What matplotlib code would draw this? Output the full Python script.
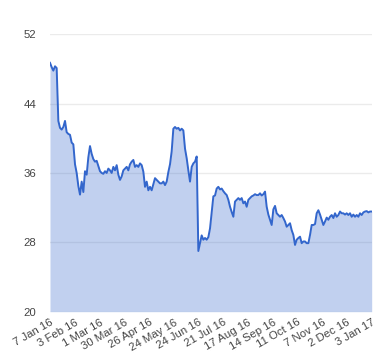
import numpy as np
import matplotlib
matplotlib.use("Agg")
import matplotlib.pyplot as plt

values = [
    48.7, 48.2, 47.8, 48.3, 48.1, 42.0, 41.2, 41.0, 41.3, 42.0,
    40.7, 40.5, 40.4, 39.5, 39.3, 37.0, 36.0, 34.5, 33.5, 35.0,
    33.8, 36.2, 35.8, 37.8, 39.1, 38.2, 37.6, 37.3, 37.4, 36.8,
    36.2, 36.0, 35.9, 36.2, 36.0, 36.5, 36.3, 36.0, 36.7, 36.3,
    36.9, 35.8, 35.2, 35.6, 36.3, 36.5, 36.7, 36.3, 37.0, 37.3,
    37.5, 36.7, 36.9, 36.7, 37.1, 36.9, 36.15, 34.4, 35.0, 34.0,
    34.4, 34.0, 34.7, 35.4, 35.2, 35.0, 34.8, 34.8, 35.0, 34.6,
    35.0, 36.1, 37.0, 38.5, 41.1, 41.3, 41.1, 41.2, 40.9, 41.1,
    40.9, 38.8, 37.7, 36.3, 35.0, 36.7, 37.1, 37.3, 37.9, 27.0,
    27.9, 28.8, 28.3, 28.5, 28.3, 28.6, 29.6, 31.5, 33.3, 33.4,
    34.2, 34.4, 34.1, 34.2, 33.9, 33.65, 33.45, 32.9, 32.1, 31.5,
    30.95, 32.7, 32.9, 33.1, 32.9, 33.1, 32.5, 32.7, 32.1, 32.9,
    33.1, 33.3, 33.4, 33.55, 33.45, 33.45, 33.65, 33.4, 33.55, 33.85,
    32.1, 31.2, 30.6, 30.0, 31.8, 32.2, 31.35, 31.15, 30.95, 31.15,
    30.8, 30.4, 29.8, 30.0, 30.2, 29.4, 28.85, 27.7, 28.3, 28.5,
    28.65, 27.9, 28.1, 28.1, 27.9, 27.9, 28.85, 30.0, 30.0, 30.1,
    31.35, 31.7, 31.2, 30.6, 30.0, 30.4, 30.85, 30.6, 30.95, 31.15,
    30.8, 31.35, 30.95, 31.15, 31.55, 31.35, 31.35, 31.2, 31.35, 31.15,
    31.35, 30.95, 31.2, 30.95, 31.15, 30.95, 31.35, 31.15, 31.45, 31.55,
    31.6, 31.45, 31.55, 31.55,
]
tick_labels = ["7 Jan 16", "3 Feb 16", "1 Mar 16", "30 Mar 16", "26 Apr 16",
               "24 May 16", "24 Jun 16", "21 Jul 16", "17 Aug 16", "14 Sep 16",
               "11 Oct 16", "7 Nov 16", "2 Dec 16", "3 Jan 17"]
y_ticks = [20, 28, 36, 44, 52]

plt.rcParams['font.family'] = ['Liberation Sans', 'DejaVu Sans']

fig = plt.figure(figsize=(3.8, 3.6), dpi=100)
ax = fig.add_axes([50/380, 1-311.7/360, 321.7/380, (311.7-34.2)/360])

x = np.arange(len(values))
ax.fill_between(x, values, 20, color='#3366cc', alpha=0.3, linewidth=0)
ax.plot(x, values, color='#3366cc', linewidth=1.4)

ax.set_xlim(0, len(values) - 1)
ax.set_ylim(20, 52)
ax.set_yticks(y_ticks)
ax.set_yticklabels([str(v) for v in y_ticks])
ax.set_xticks(np.linspace(0, len(values) - 1, len(tick_labels)))
ax.set_xticklabels(tick_labels, rotation=30, ha='right', rotation_mode='anchor')

for s in ax.spines.values():
    s.set_visible(False)
ax.grid(axis='y', color='#ebebeb', linewidth=1)
ax.set_axisbelow(True)
ax.tick_params(axis='both', length=0, labelsize=8.2, colors='#444444')
ax.tick_params(axis='y', pad=10)
ax.tick_params(axis='x', pad=4)

fig.savefig('out.png', dpi=100)
